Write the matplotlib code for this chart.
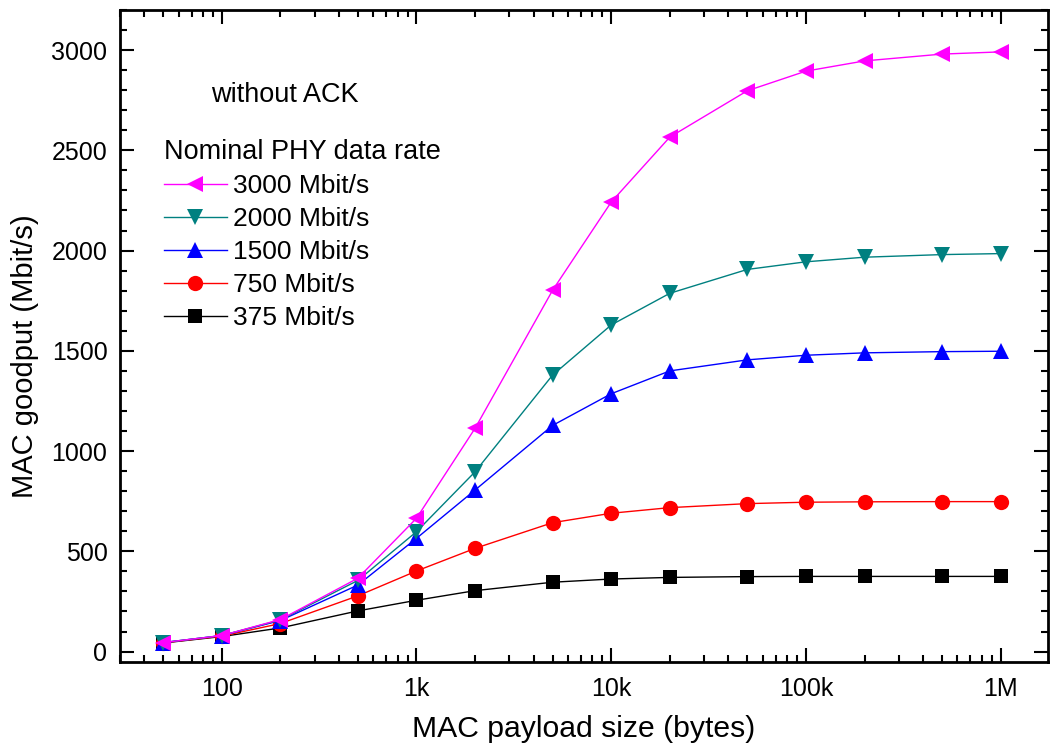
import matplotlib
matplotlib.use("Agg")
import matplotlib.pyplot as plt
from matplotlib.ticker import FixedLocator, LogLocator, MultipleLocator, NullFormatter

plt.rcParams['font.family'] = ['Liberation Sans', 'DejaVu Sans']

payload = [50, 100, 200, 500, 1000, 2000, 5000, 10000, 20000, 50000, 100000, 200000, 500000, 1000000]
rate_labels = ["375 Mbit/s", "750 Mbit/s", "1500 Mbit/s", "2000 Mbit/s", "3000 Mbit/s"]
g375 = [43, 75, 118, 203, 256, 304, 346, 362, 370, 374, 375, 375, 375, 375]
g750 = [44, 77, 140, 278, 402, 515, 643, 690, 718, 738, 745, 747, 748, 748]
g1500 = [45, 80, 155, 332, 565, 806, 1128, 1286, 1400, 1455, 1478, 1490, 1496, 1498]
g2000 = [45, 80, 158, 355, 598, 897, 1379, 1629, 1787, 1906, 1944, 1967, 1980, 1985]
g3000 = [45, 80, 160, 366, 665, 1114, 1802, 2242, 2566, 2797, 2895, 2946, 2980, 2991]
xtick_vals = [100, 1000, 10000, 100000, 1000000]
xtick_labels = ["100", "1k", "10k", "100k", "1M"]

series = [
    (g375, "black", "s", 9.5),
    (g750, "#FF0000", "o", 11),
    (g1500, "#0000FF", "^", 12),
    (g2000, "#008080", "v", 12),
    (g3000, "#FF00FF", "<", 12),
]

fig = plt.figure(figsize=(10.58, 7.5), dpi=100)
ax = fig.add_axes([0.1134, 0.1173, 0.8771, 0.8694])

handles = []
for (vals, col, mk, ms), lab in zip(series, rate_labels):
    h, = ax.plot(payload, vals, color=col, marker=mk, markersize=ms, linewidth=1.0,
                 markeredgewidth=0, label=lab)
    handles.append(h)

ax.set_xscale('log')
ax.set_xlim(30, 1.75e6)
ax.set_ylim(-52, 3200)

ax.xaxis.set_major_locator(FixedLocator(xtick_vals))
ax.set_xticklabels(xtick_labels)
ax.xaxis.set_minor_locator(LogLocator(base=10, subs=[2, 3, 4, 5, 6, 7, 8, 9], numticks=20))
ax.xaxis.set_minor_formatter(NullFormatter())
ax.yaxis.set_major_locator(MultipleLocator(500))
ax.yaxis.set_minor_locator(MultipleLocator(100))

ax.tick_params(which='both', direction='in', top=True, right=True, width=1.5)
ax.tick_params(which='major', length=10, labelsize=18)
ax.tick_params(axis='y', which='major', pad=9)
ax.tick_params(axis='x', which='major', pad=11)
ax.tick_params(which='minor', length=5)
for sp in ax.spines.values():
    sp.set_linewidth(2)

ax.set_xlabel("MAC payload size (bytes)", fontsize=21.7, labelpad=10)
ax.set_ylabel("MAC goodput (Mbit/s)", fontsize=21, labelpad=10)
ax.yaxis.set_label_coords(-0.087, 0.469)

ax.text(0.098, 0.87, "without ACK", transform=ax.transAxes, fontsize=19.5, ha='left', va='center')

leg = ax.legend(handles[::-1], rate_labels[::-1], title="Nominal PHY data rate",
                loc='upper left', bbox_to_anchor=(0.027, 0.83), frameon=False,
                fontsize=19, title_fontsize=19.5, handlelength=2.4, handletextpad=0.25,
                labelspacing=0.34, alignment='left', borderpad=0.2)

fig.savefig("out.png", dpi=100)
